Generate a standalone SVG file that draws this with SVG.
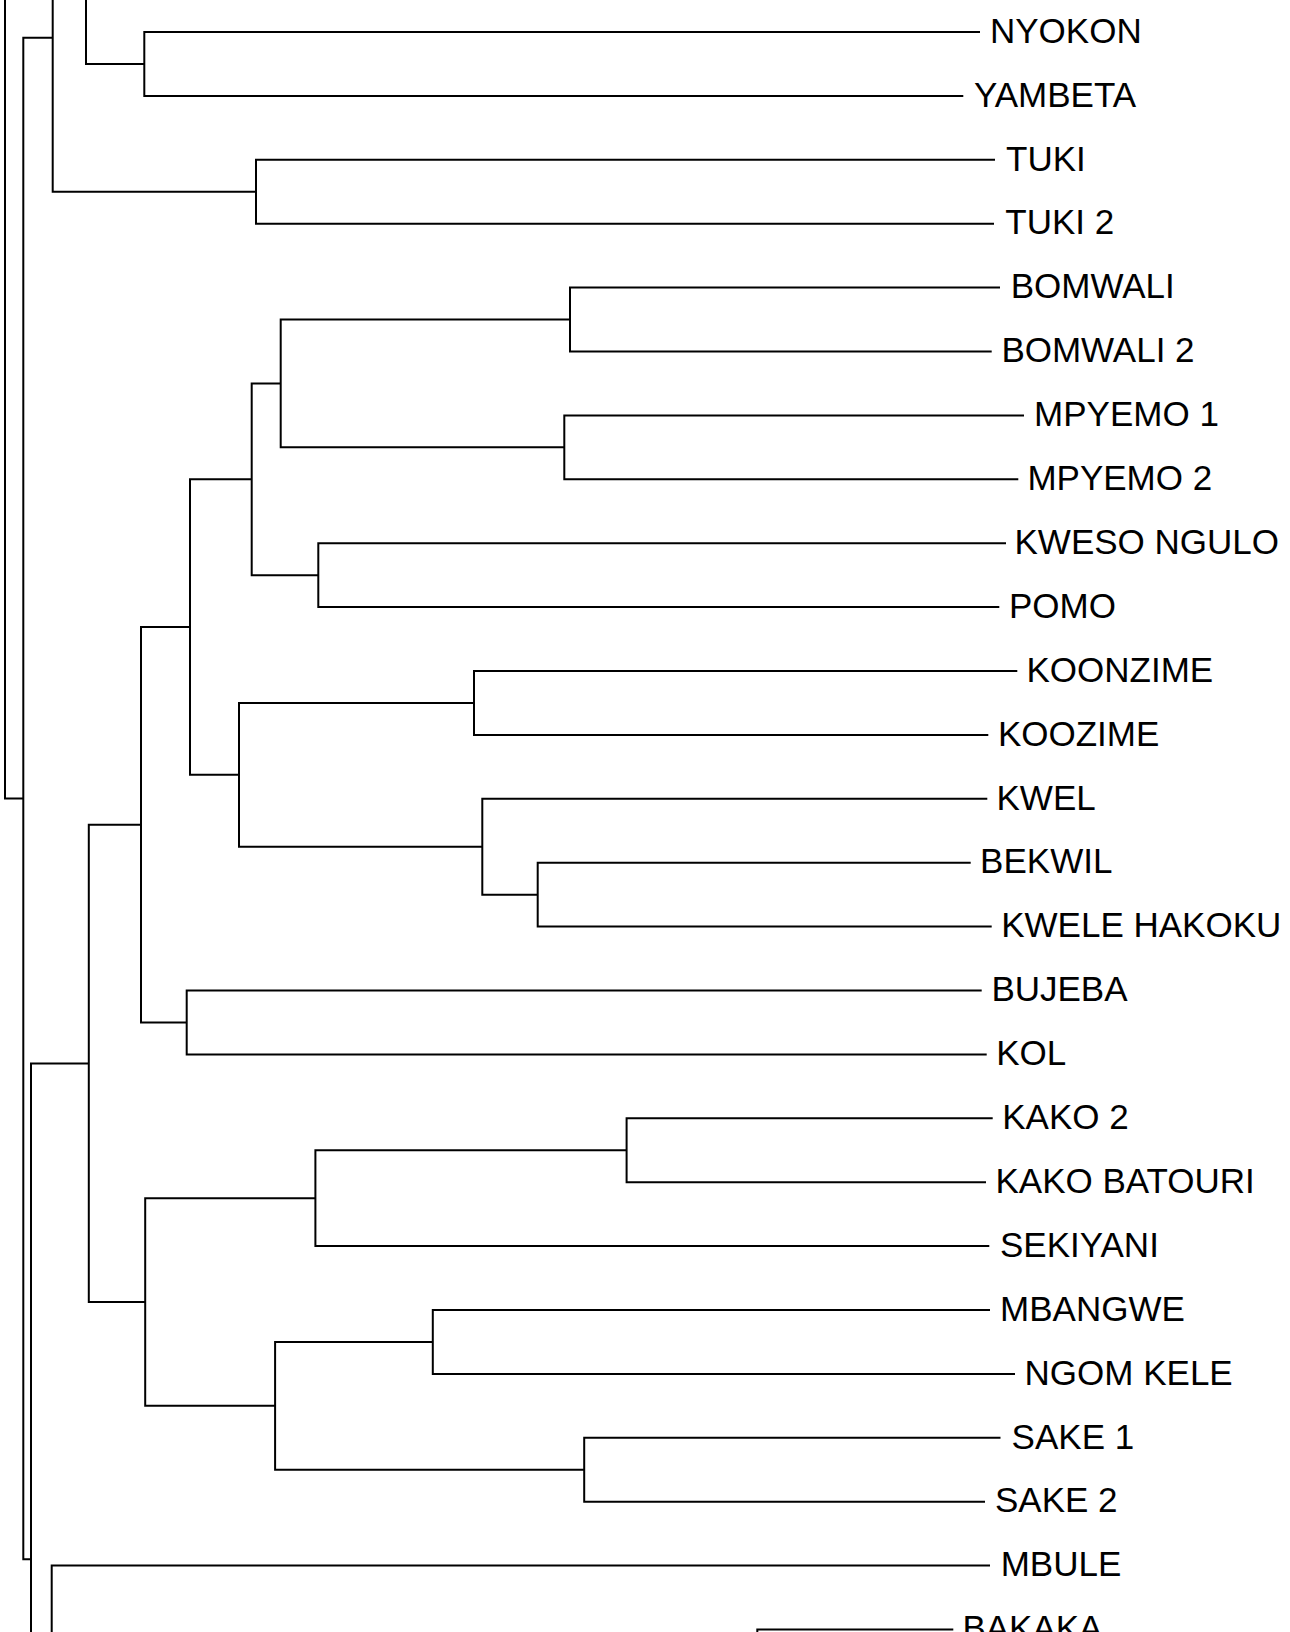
<svg xmlns="http://www.w3.org/2000/svg" width="1290" height="1632" viewBox="0 0 1290 1632">
<style>
.c{fill:none;stroke:#000;stroke-width:2;stroke-linejoin:miter}
.l{font-family:"Liberation Sans",Arial,sans-serif;font-size:35px;fill:#000}
</style>
<rect width="1290" height="1632" fill="#fff"/>
<g id="connectors">
<path class="c" d="M5 0 V798.4 H23.3"/>
<path class="c" d="M52.7 37.7 H23.3 V1559.3 H31"/>
<path class="c" d="M52.7 0 V191.75 H256"/>
<path class="c" d="M86 0 V63.95 H144.3"/>
<path class="c" d="M980 32 H144.3 V95.9 H963.3"/>
<path class="c" d="M995 159.8 H256 V223.7 H994"/>
<path class="c" d="M88.8 1063.4 H31 V1632"/>
<path class="c" d="M141 824.75 H88.8 V1302 H145.2"/>
<path class="c" d="M190 627 H141 V1022.45 H186.7"/>
<path class="c" d="M251.7 479.3 H190 V774.8 H239"/>
<path class="c" d="M280.7 383.45 H251.7 V575.15 H318.3"/>
<path class="c" d="M570 319.55 H280.7 V447.35 H564.3"/>
<path class="c" d="M1000 287.6 H570 V351.5 H991.7"/>
<path class="c" d="M1024 415.4 H564.3 V479.3 H1018.3"/>
<path class="c" d="M1006 543.2 H318.3 V607.1 H999.3"/>
<path class="c" d="M474 702.95 H239 V846.7 H482.3"/>
<path class="c" d="M1017.3 671 H474 V734.9 H988.3"/>
<path class="c" d="M987.3 798.8 H482.3 V894.65 H537.7"/>
<path class="c" d="M970.7 862.7 H537.7 V926.6 H991.7"/>
<path class="c" d="M981.7 990.5 H186.7 V1054.4 H986.7"/>
<path class="c" d="M315.4 1198.2 H145.2 V1405.85 H275.1"/>
<path class="c" d="M626.6 1150.25 H315.4 V1246.1 H989.3"/>
<path class="c" d="M992.7 1118.3 H626.6 V1182.2 H986"/>
<path class="c" d="M432.8 1341.95 H275.1 V1469.75 H584.2"/>
<path class="c" d="M990 1310 H432.8 V1373.9 H1015"/>
<path class="c" d="M1000.5 1437.8 H584.2 V1501.7 H985"/>
<path class="c" d="M51.7 1632 V1565.6 H990"/>
<path class="c" d="M757.3 1632 V1629.5 H953.3"/>
</g>
<g id="leaf-nyokon"><text class="l" x="990" y="42.7">NYOKON</text></g>
<g id="leaf-yambeta"><text class="l" x="974" y="106.6">YAMBETA</text></g>
<g id="leaf-tuki"><text class="l" x="1006" y="170.5">TUKI</text></g>
<g id="leaf-tuki2"><text class="l" x="1005.3" y="234.4">TUKI 2</text></g>
<g id="leaf-bomwali"><text class="l" x="1010.7" y="298.3">BOMWALI</text></g>
<g id="leaf-bomwali2"><text class="l" x="1001.4" y="362.2">BOMWALI 2</text></g>
<g id="leaf-mpyemo1"><text class="l" x="1034.1" y="426.1">MPYEMO 1</text></g>
<g id="leaf-mpyemo2"><text class="l" x="1027.4" y="490">MPYEMO 2</text></g>
<g id="leaf-kweso-ngulo"><text class="l" x="1014.5" y="553.9">KWESO NGULO</text></g>
<g id="leaf-pomo"><text class="l" x="1009" y="617.8">POMO</text></g>
<g id="leaf-koonzime"><text class="l" x="1026.5" y="681.7">KOONZIME</text></g>
<g id="leaf-koozime"><text class="l" x="997.9" y="745.6">KOOZIME</text></g>
<g id="leaf-kwel"><text class="l" x="996.5" y="809.5">KWEL</text></g>
<g id="leaf-bekwil"><text class="l" x="980.1" y="873.4">BEKWIL</text></g>
<g id="leaf-kwele-hakoku"><text class="l" x="1001.2" y="937.3">KWELE HAKOKU</text></g>
<g id="leaf-bujeba"><text class="l" x="991.4" y="1001.2">BUJEBA</text></g>
<g id="leaf-kol"><text class="l" x="996.2" y="1065.1">KOL</text></g>
<g id="leaf-kako2"><text class="l" x="1002.2" y="1129">KAKO 2</text></g>
<g id="leaf-kako-batouri"><text class="l" x="995.5" y="1192.9">KAKO BATOURI</text></g>
<g id="leaf-sekiyani"><text class="l" x="1000" y="1256.8">SEKIYANI</text></g>
<g id="leaf-mbangwe"><text class="l" x="1000.1" y="1320.7">MBANGWE</text></g>
<g id="leaf-ngom-kele"><text class="l" x="1024.6" y="1384.6">NGOM KELE</text></g>
<g id="leaf-sake1"><text class="l" x="1011.6" y="1448.5">SAKE 1</text></g>
<g id="leaf-sake2"><text class="l" x="995" y="1512.4">SAKE 2</text></g>
<g id="leaf-mbule"><text class="l" x="1000.7" y="1576.3">MBULE</text></g>
<g id="leaf-bakaka"><text class="l" x="962.4" y="1640.2">BAKAKA</text></g>
</svg>
